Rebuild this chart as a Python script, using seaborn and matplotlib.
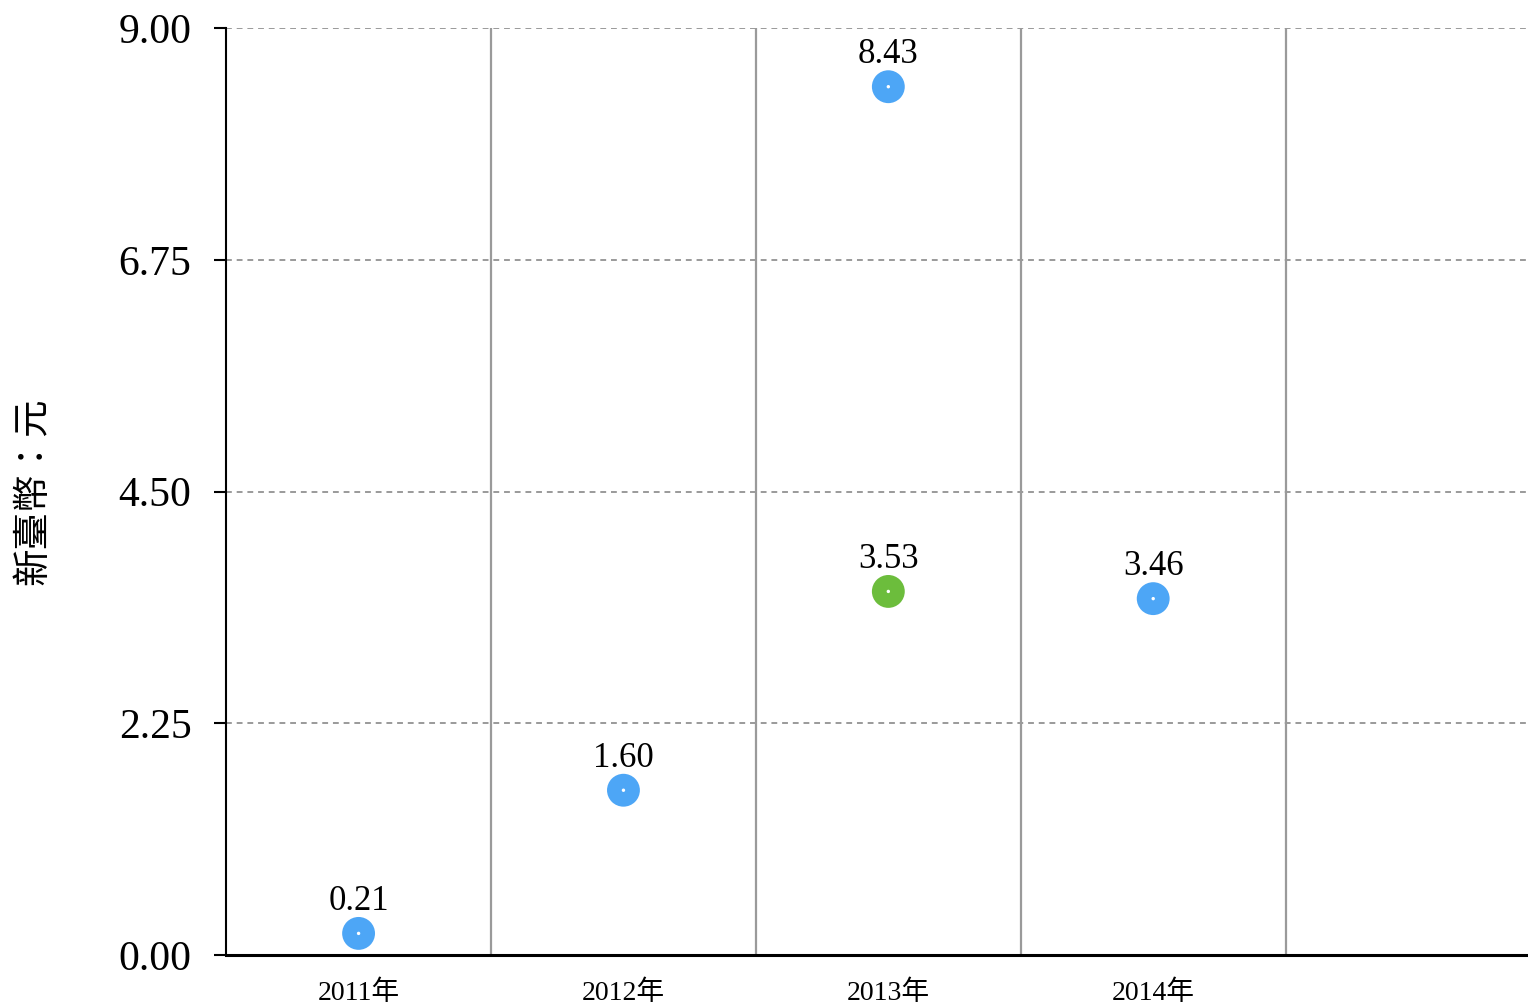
import pandas as pd
import matplotlib
matplotlib.use("Agg")
import matplotlib.pyplot as plt
import seaborn as sns

# data
years = ['2011年', '2012年', '2013年', '2014年']
blue_values = [0.21, 1.60, 8.43, 3.46]
green_years = ['2013年']
green_values = [3.53]
y_ticks = [0.00, 2.25, 4.50, 6.75, 9.00]
y_label = '新臺幣：元'

BLUE = '#4da6f6'
GREEN = '#6cbd3c'


def visualize():
    sns.set_style('white')
    plt.rcParams['font.family'] = ['Liberation Serif', 'Noto Sans CJK TC', 'DejaVu Sans']
    plt.rcParams['text.color'] = 'black'
    plt.rcParams['xtick.color'] = 'black'
    plt.rcParams['ytick.color'] = 'black'
    plt.rcParams['axes.labelcolor'] = 'black'

    df_blue = pd.DataFrame({'Year': years, 'Value': blue_values})
    df_green = pd.DataFrame({'Year': green_years, 'Value': green_values})

    fig = plt.figure(figsize=(15.28, 10.07), dpi=100)
    ax = fig.add_axes([0.148, 0.0516, 0.852, 0.9206])

    order = {y: i for i, y in enumerate(years)}
    df_blue['x'] = df_blue['Year'].map(order)
    df_green['x'] = df_green['Year'].map(order)

    for df, color in [(df_blue, BLUE), (df_green, GREEN)]:
        sns.scatterplot(data=df, x='x', y='Value', ax=ax, color=color, s=560,
                        edgecolor='none', zorder=3, legend=False)
        sns.scatterplot(data=df, x='x', y='Value', ax=ax, color='white', s=6,
                        edgecolor='none', zorder=4, legend=False)
        for _, r in df.iterrows():
            ax.annotate(f"{r['Value']:.2f}", (r['x'], r['Value']),
                        xytext=(0, 17), textcoords='offset points',
                        ha='center', va='baseline', fontsize=25, color='black')

    ax.set_xlim(-0.5, 4.415)
    ax.set_ylim(0, 9)
    ax.set_xticks(range(len(years)))
    ax.set_xticklabels(years, fontsize=20)
    ax.set_yticks(y_ticks)
    ax.set_yticklabels([f"{t:.2f}" for t in y_ticks], fontsize=30)
    ax.tick_params(axis='x', length=0, pad=18)
    ax.tick_params(axis='y', length=9, width=1.5, color='black', pad=16, left=True)

    for t in y_ticks[1:]:
        ax.axhline(t, color='#9a9a9a', lw=1.4, ls=(0, (3, 2.5)), zorder=1)
    for i in range(len(years)):
        ax.axvline(i + 0.5, color='#9a9a9a', lw=1.6, zorder=1)

    for side in ['top', 'right']:
        ax.spines[side].set_visible(False)
    ax.spines['left'].set_color('black')
    ax.spines['left'].set_linewidth(1.5)
    ax.spines['bottom'].set_color('black')
    ax.spines['bottom'].set_linewidth(2.2)

    ax.set_xlabel('')
    ax.set_ylabel(y_label, fontsize=27, labelpad=48)

    plt.savefig('out.png', dpi=100)


if __name__ == "__main__":
    visualize()
